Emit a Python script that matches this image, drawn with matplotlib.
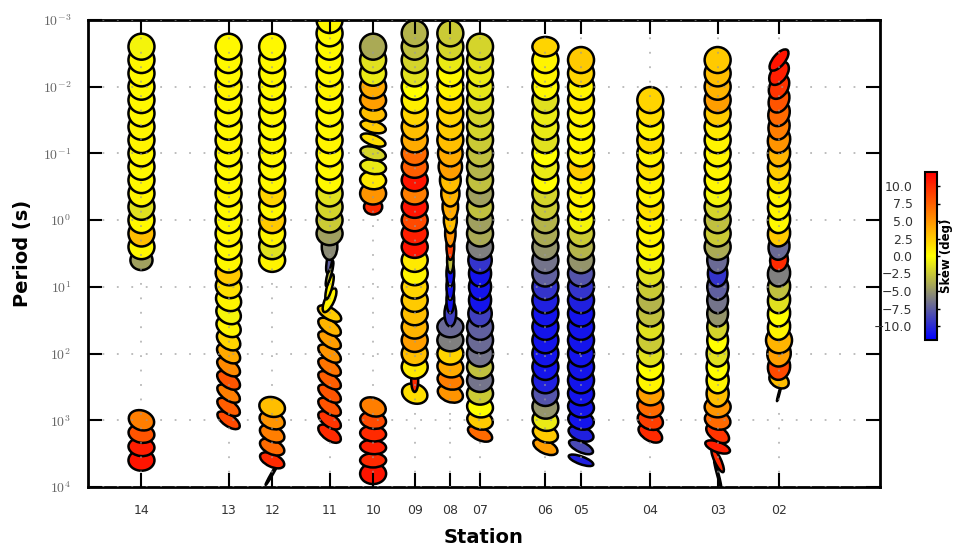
import numpy as np
import matplotlib
matplotlib.use("Agg")
import matplotlib.pyplot as plt
from matplotlib.collections import EllipseCollection
from matplotlib.colors import LinearSegmentedColormap, Normalize
from matplotlib.cm import ScalarMappable

plt.rcParams["mathtext.fontset"] = "cm"

# ---------------------------------------------------------------- data
stations = ["14", "13", "12", "11", "10", "09", "08", "07", "06", "05", "04", "03", "02"]
station_km = [2.7, 7.1, 9.3, 12.2, 14.4, 16.5, 18.3, 19.8, 23.1, 24.9, 28.4, 31.8, 34.9]

# log10 of the period (s) of every estimate
log_periods = [-3.0, -2.8, -2.6, -2.4, -2.2, -2.0, -1.8, -1.6, -1.4, -1.2,
               -1.0, -0.8, -0.6, -0.4, -0.2, 0.0, 0.2, 0.4, 0.6, 0.8,
               1.0, 1.2, 1.4, 1.6, 1.8, 2.0, 2.2, 2.4, 2.6, 2.8,
               3.0, 3.2, 3.4, 3.6, 3.8]

# continuous runs of phase-tensor estimates along each station
run_station = ["14", "14", "13", "12", "12", "11", "10", "10", "09", "08", "07", "06", "05", "04", "03", "02"]
run_first = [2, 30, 2, 2, 29, 0, 2, 29, 1, 1, 2, 2, 3, 6, 3, 3]

# skew angle (deg)
run_skew = [
    [-0.5, 0.3, 0.3, 0.3, 0.3, 0.3, 0.5, 0.5, 0.3, 0.3, 0.3, 0.5, -1.5, 0.3, 3.0, 0.3, -4.5],
    [6.0, 8.0, 10.5, 11.0],
    [0.3, 0.3, 0.3, 0.5, 0.3, 0.3, 0.3, 0.5, 0.3, 0.3, 0.3, 0.5, 0.3, 0.3, 0.5,
     0.3, 0.3, 2.5, 1.5, 0.5, -0.5, 0.5, 2.0, 4.0, 5.5, 8.0, 6.0, 7.5, 8.5],
    [0.3, 0.3, 0.3, 0.3, 0.3, 0.3, 0.3, 0.3, 0.3, 0.3, 0.3, 2.0, 0.3, 2.5, 0.5, -1.5, 0.5],
    [3.0, 5.0, 6.0, 7.0, 10.0, 9.0],
    [0.3, 0.3, 0.3, 0.3, 0.3, 0.5, 0.3, 0.3, 0.3, 0.5, 0.3, 0.3, 0.3,
     -1.5, -2.0, -2.5, -4.5, -5.5, -7.5, -3.0, 0.5, 0.5, 2.5, 3.5, 4.5, 5.0, 6.5, 7.5, 8.0, 8.0, 9.5, 10.0],
    [-4.0, -1.5, -1.0, 4.0, 4.5, 3.0, 2.5, 1.5, -2.0, -1.0, 1.0, 5.0, 10.0],
    [6.0, 8.5, 10.0, 10.5, 10.0, 11.0],
    [-3.5, -3.0, -2.0, -1.5, 0.0, 0.8, 2.0, 3.0, 4.0, 7.0, 7.5, 11.0, 6.0, 11.0, 8.5, 10.5, 11.0,
     1.0, 0.5, 2.0, 2.5, 3.0, 3.5, 4.5, 3.0, 1.0, 10.0, 1.5],
    [-2.5, -2.0, -1.0, 0.3, 0.5, 1.5, 2.0, 2.5, 3.0, 4.0, 4.5, 3.0, 3.5, 4.0, 3.0, 5.0, 9.0,
     -3.0, -11.0, -11.0, -11.0, -9.0, -7.0, -6.0, 2.0, 4.0, 6.0, 5.0],
    [-2.0, -1.5, -1.0, -1.2, -1.5, -2.0, -2.0, -2.5, -3.0, -3.5, -3.0, -4.5, -3.0, -4.5, -4.0, -6.0,
     -9.5, -11.0, -11.0, -11.0, -9.0, -7.5, -7.0, -6.5, -3.0, -6.5, -2.5, 0.0, 2.5, 7.0],
    [2.0, 0.5, 0.5, 0.3, -1.5, -1.0, -1.0, -1.5, 0.0, -1.0, 0.0, -2.0, -2.5, -3.5, -4.0, -5.0,
     -6.5, -7.5, -9.5, -10.5, -11.0, -11.0, -11.0, -11.0, -11.0, -10.5, -8.0, -5.0, -1.0, 2.5, 4.5],
    [2.5, 2.0, 0.5, 1.0, 0.5, 0.5, 0.3, 0.5, 2.5, 0.5, 0.5, 0.5, -0.5, -2.5, -3.5,
     -5.0, -8.0, -9.5, -10.5, -11.0, -11.0, -11.0, -11.0, -11.0, -11.0, -11.0, -11.0, -11.0, -10.5, -8.5, -10.5],
    [2.0, 1.5, 0.5, 1.5, 0.5, 1.5, 0.5, 0.5, 1.5, 0.5, 0.5, 0.5,
     -0.5, -1.5, -2.5, -3.5, -3.0, -1.5, -2.5, -1.5, 0.0, 0.5, 4.5, 7.0, 9.0, 10.0],
    [2.5, 3.0, 3.5, 4.5, 2.5, 1.0, 0.5, 0.5, 0.5, 0.3, -0.5, -2.0, -3.0, -2.5, -4.0,
     -7.0, -9.5, -7.5, -6.5, -5.0, -2.0, 0.0, -1.5, 0.0, 0.5, 3.0, 5.0, 7.0, 9.5, 10.5, 10.0, 10.0],
    [11.0, 10.5, 9.5, 8.0, 7.0, 6.0, 5.0, 3.5, 2.5, 1.0, 0.5, 0.5, 0.3, 2.5, -7.0,
     10.0, -6.0, -3.0, -1.5, 0.0, 0.5, 3.5, 4.5, 8.5, 3.0, 5.0],
]

# phi_min / phi_max
run_ratio = [
    [1, 1, 1, 1, 1, 1, 1, 1, 1, 1, 1, 1, 1, 1, 1, 0.95, 0.9],
    [0.75, 0.7, 0.7, 0.8],
    [1, 1, 1, 1, 1, 1, 1, 1, 1, 1, 1, 1, 1, 1, 1, 1,
     0.95, 0.9, 0.85, 0.8, 0.75, 0.7, 0.65, 0.6, 0.55, 0.55, 0.5, 0.5, 0.45],
    [1, 1, 1, 1, 1, 1, 1, 1, 1, 1, 1, 1, 1, 1, 1, 0.95, 0.9],
    [0.75, 0.65, 0.6, 0.55, 0.5, 0.07],
    [1, 1, 1, 1, 1, 1, 1, 1, 1, 1, 1, 1, 1,
     1, 1, 0.95, 0.9, 0.6, 0.2, 0.15, 0.2, 0.35, 0.45, 0.5, 0.5, 0.5, 0.5, 0.5, 0.5, 0.5, 0.5, 0.5],
    [1, 1, 0.95, 0.9, 0.8, 0.65, 0.45, 0.4, 0.5, 0.55, 0.7, 0.85, 0.85],
    [0.7, 0.65, 0.6, 0.55, 0.55, 0.8],
    [1, 1, 1, 1, 1, 1, 1, 1, 0.95, 0.9, 0.85, 0.85, 0.85, 0.85, 0.85, 0.85, 0.85,
     0.9, 0.9, 0.9, 0.9, 0.9, 0.9, 0.9, 0.9, 0.9, 0.3, 0.75],
    [1, 1, 1, 1, 1, 1, 1, 1, 1, 0.95, 0.9, 0.8, 0.7, 0.6, 0.5, 0.4, 0.3,
     0.25, 0.3, 0.3, 0.3, 0.45, 0.8, 0.85, 0.85, 0.8, 0.7, 0.65],
    [1, 1, 1, 1, 1, 1, 1, 1, 1, 1, 1, 1, 1, 1, 1, 1,
     0.9, 0.85, 0.85, 0.85, 0.9, 1, 1, 1, 0.9, 0.9, 0.85, 0.8, 0.7, 0.5],
    [0.75, 1, 1, 1, 1, 1, 1, 1, 1, 1, 1, 1, 1, 1, 1, 1,
     1, 1, 1, 1, 1, 1, 1, 1, 1, 1, 0.95, 0.9, 0.8, 0.65, 0.5],
    [1, 1, 1, 1, 1, 1, 1, 1, 1, 1, 1, 1, 1, 1, 1,
     1, 1, 1, 1, 1, 1, 1, 1, 1, 1, 0.9, 0.8, 0.7, 0.55, 0.4, 0.3],
    [1, 1, 1, 1, 1, 1, 1, 1, 1, 1, 1, 1, 1, 1, 1, 1, 1, 1, 1, 1, 1, 1, 0.9, 0.8, 0.7, 0.55],
    [1, 1, 1, 1, 1, 1, 1, 1, 1, 1, 1, 1, 1, 1, 1,
     0.8, 0.75, 0.8, 0.8, 0.8, 0.8, 0.8, 0.85, 0.85, 0.85, 0.85, 0.8, 0.7, 0.55, 0.4, 0.25, 0.06],
    [0.45, 0.6, 0.7, 0.75, 0.8, 0.8, 0.85, 0.85, 0.85, 0.85, 0.85, 0.85, 0.85, 0.85, 0.8,
     0.8, 0.85, 0.85, 0.85, 0.85, 0.85, 1.0, 0.9, 0.85, 0.7, 0.06],
]

# orientation of the major axis on the page (deg, counter-clockwise)
run_angle = [
    [0, 0, 0, 0, 0, 0, 0, 0, 0, 0, 0, 0, 0, 0, 0, 0, 0],
    [-20, -10, -5, 0],
    [0, 0, 0, 0, 0, 0, 0, 0, 0, 0, 0, 0, 0, 0, 0, 0,
     -10, -15, -20, -25, -30, -30, -35, -35, -35, -35, -35, -35, -35],
    [0, 0, 0, 0, 0, 0, 0, 0, 0, 0, 0, 0, 0, 0, 0, 0, 0],
    [-15, -20, -25, -25, -25, 60],
    [0, 0, 0, 0, 0, 0, 0, 0, 0, 0, 0, 0, 0,
     0, 0, 0, 0, 90, 80, 75, 75, 65, -30, -35, -35, -35, -35, -35, -35, -35, -35, -35],
    [0, 0, 0, 0, -5, -10, -15, -20, -15, -10, -5, 0, 0],
    [-20, -10, -5, -5, 0, 0],
    [0, 0, 0, 0, 0, 0, 0, 0, 0, 0, 0, 0, 0, 0, 0, 0, 0, 0, 0, 0, 0, 0, 0, 0, 0, 0, 90, -20],
    [0, 0, 0, 0, 0, 0, 0, 0, 0, 90, 90, 90, 90, 90, 90, 90, 90, 90, 90, 90, 90, 90,
     0, 0, 0, -10, -15, -20],
    [0, 0, 0, 0, 0, 0, 0, 0, 0, 0, 0, 0, 0, 0, 0, 0,
     90, 90, 90, 90, 90, 0, 0, 0, 0, 0, 0, -10, -15, -25],
    [0, 0, 0, 0, 0, 0, 0, 0, 0, 0, 0, 0, 0, 0, 0, 0,
     0, 0, 0, 0, 0, 0, 0, 0, 0, 0, -5, -10, -15, -20, -25],
    [0, 0, 0, 0, 0, 0, 0, 0, 0, 0, 0, 0, 0, 0, 0,
     0, 0, 0, 0, 0, 0, 0, 0, 0, 0, -5, -10, -15, -20, -25, -20],
    [0, 0, 0, 0, 0, 0, 0, 0, 0, 0, 0, 0, 0, 0, 0, 0, 0, 0, 0, 0, 0, 0, -5, -10, -20, -30],
    [0, 0, 0, 0, 0, 0, 0, 0, 0, 0, 0, 0, 0, 0, 0,
     90, 90, 90, 90, 90, 90, 90, 90, 90, 90, 90, 0, -15, -35, -20, -65, -75],
    [50, 55, 60, 65, 70, 75, 75, 80, 80, 80, 80, 80, 80, 80, 80,
     80, 80, 80, 80, 80, 80, 0, 80, 80, -30, 75],
]

# phi_max relative to the largest ellipse (None = all full size)
run_size = [
    [1, 1, 1, 1, 1, 1, 1, 1, 1, 1, 1, 1, 1, 1, 1, 1, 0.85],
    None, None, None, None, None,
    [1, 1, 1, 1, 1, 1, 1, 1, 1, 1, 1, 1, 0.7],
    None,
    [1, 1, 1, 1, 1, 1, 1, 1, 1, 1, 1, 1, 1, 1, 1, 1, 1, 1, 1, 1, 1, 1, 1, 1, 1, 1, 0.9, 1.0],
    None, None, None, None, None, None,
    [1, 1, 1, 1, 1, 1, 1, 1, 1, 1, 1, 1, 1, 1, 1,
     0.85, 1, 1, 1, 1, 1, 1, 1, 1, 0.8, 0.6],
]

skew_ticks = [10.0, 7.5, 5.0, 2.5, 0.0, -2.5, -5.0, -7.5, -10.0]
skew_limits = (-12.0, 12.0)

# ---------------------------------------------------------------- figure
fig = plt.figure(figsize=(9.56, 5.52), dpi=100)
ax = fig.add_axes([88 / 956, 65 / 552, 792 / 956, 467 / 552])

cmap = LinearSegmentedColormap.from_list("bl2y2rd", [(0, 0, 1), (1, 1, 0), (1, 0, 0)])
norm = Normalize(*skew_limits)

MAJOR_PX = 26.0
xs, ys, widths, heights, angles, colours = [], [], [], [], [], []
for name, i0, sk, rt, an, sz in zip(run_station, run_first, run_skew, run_ratio, run_angle, run_size):
    x = station_km[stations.index(name)]
    for k in range(len(sk)):
        s = 1.0 if sz is None else sz[k]
        xs.append(x)
        ys.append(log_periods[i0 + k])
        widths.append(MAJOR_PX * s)
        heights.append(MAJOR_PX * s * rt[k])
        angles.append(an[k])
        colours.append(sk[k])

xs, ys = np.array(xs), np.array(ys)
order = np.argsort(-ys, kind="stable")  # short periods drawn last, on top

ec = EllipseCollection(np.array(widths)[order], np.array(heights)[order], np.array(angles)[order],
                       units="dots", offsets=np.column_stack([xs[order], ys[order]]),
                       offset_transform=ax.transData, cmap=cmap, norm=norm,
                       edgecolors="black", linewidths=1.8, zorder=2)
ec.set_array(np.array(colours)[order])
ax.add_collection(ec, autolim=False)

ax.set_xlim(0, 40)
ax.set_ylim(4, -3)

ax.set_xticks(station_km)
ax.set_xticklabels(stations, fontsize=9, color="#333333")
yt = list(range(-3, 5))
ax.set_yticks(yt)
ax.set_yticklabels([r"$10^{%d}$" % v for v in yt], fontsize=10, color="#666666")
ax.tick_params(axis="both", direction="in", length=10, width=1.5, top=True, right=True)
ax.tick_params(axis="x", pad=12)
ax.tick_params(axis="y", pad=12)

for sp in ax.spines.values():
    sp.set_linewidth(2.0)

ax.grid(True, color="#999999", linestyle=(0, (1, 7)), linewidth=1.3, alpha=0.7, zorder=3)
ax.set_axisbelow(False)

ax.set_xlabel("Station", fontsize=14, fontweight="bold", labelpad=8)
ax.set_ylabel("Period (s)", fontsize=14, fontweight="bold", labelpad=8)

# colour bar
cax = fig.add_axes([925 / 956, 212 / 552, 12 / 956, 168 / 552])
cb = fig.colorbar(ScalarMappable(norm=norm, cmap=cmap), cax=cax)
cb.set_ticks(skew_ticks)
cb.set_ticklabels(["%.1f" % v if v >= 0 else "\u2212%.1f" % abs(v) for v in skew_ticks])
cax.tick_params(axis="y", left=False, right=True, labelleft=True, labelright=False,
                length=2, width=1, labelsize=9, labelcolor="#333333", pad=7)
cb.outline.set_linewidth(1.5)
cax.yaxis.set_label_position("right")
cb.set_label("Skew (deg)", fontsize=8.5, fontweight="bold", labelpad=0)

fig.savefig("out.png", dpi=100)
